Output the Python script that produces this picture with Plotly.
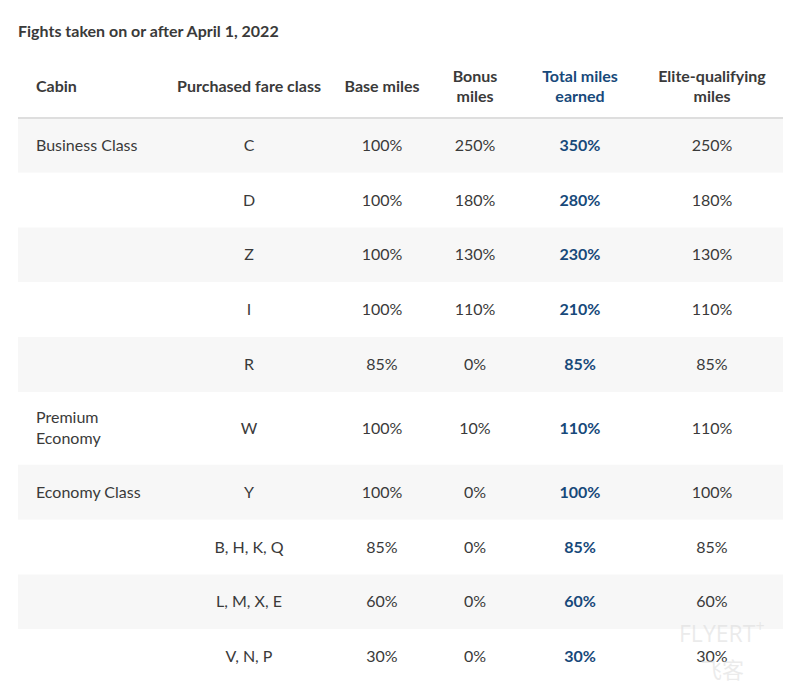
import plotly.graph_objects as go

# ---------------- data ----------------
title_text = "Fights taken on or after April 1, 2022"
headers = ["Cabin", "Purchased fare class", "Base miles", "Bonus<br>miles",
           "Total miles<br>earned", "Elite-qualifying<br>miles"]
cabins = ["Business Class", "", "", "", "", "Premium<br>Economy",
          "Economy Class", "", "", ""]
fare_classes = ["C", "D", "Z", "I", "R", "W", "Y", "B, H, K, Q", "L, M, X, E", "V, N, P"]
base_miles = [100, 100, 100, 100, 85, 100, 100, 85, 60, 30]
bonus_miles = [250, 180, 130, 110, 0, 10, 0, 0, 0, 0]
total_miles = [350, 280, 230, 210, 85, 110, 100, 85, 60, 30]
elite_miles = [250, 180, 130, 110, 85, 110, 100, 85, 60, 30]

# ---------------- layout constants ----------------
PAGE_OFF = 8                       # browser default body margin
W, H = 800 - PAGE_OFF, 696 - PAGE_OFF
ML, MR, MT, MB = 18 - PAGE_OFF, 17, 55 - PAGE_OFF, 12
TABLE_W = W - ML - MR
HEADER_H = 63
ROW_H = 54.8
LINE_EXTRA = 18.2
TEXT_DY = 1.5
FONT = "Lato, 'Open Sans', sans-serif"
FS = 16
TXT = "#3a3a3a"
BLUE = "#17497a"
STRIPE = "#f7f7f7"

col_x = [18, 231, 364, 457, 562, 694]  # text anchor per column (px within table)

# row geometry from line counts
heights = []
for c in cabins:
    lines = c.count("<br>") + 1
    heights.append(ROW_H + (lines - 1) * LINE_EXTRA)
centers = []
y = HEADER_H
for h in heights:
    centers.append(y + h / 2)
    y += h
total_h = y
text_y = [c + TEXT_DY for c in centers]

fig = go.Figure()

# stripes
fig.add_trace(go.Bar(
    orientation="h", x=[TABLE_W] * len(heights), y=centers, width=heights, base=0,
    marker=dict(color=[STRIPE if i % 2 == 0 else "#ffffff" for i in range(len(heights))],
                line=dict(width=0)),
    hoverinfo="skip", showlegend=False,
))

def pct(vals):
    return [f"{v}%" for v in vals]

columns = [cabins, fare_classes, pct(base_miles), pct(bonus_miles), pct(total_miles), pct(elite_miles)]
for j, col in enumerate(columns):
    is_total = (j == 4)
    fig.add_trace(go.Scatter(
        x=[col_x[j]] * len(col), y=text_y, mode="text", text=col,
        textposition="middle right" if j == 0 else "middle center",
        textfont=dict(family=FONT, size=FS, color=BLUE if is_total else TXT,
                      weight="bold" if is_total else "normal"),
        hoverinfo="skip", showlegend=False,
    ))

# header
fig.add_trace(go.Scatter(
    x=col_x, y=[HEADER_H / 2 + TEXT_DY] * len(headers), mode="text", text=headers,
    textposition=["middle right"] + ["middle center"] * (len(headers) - 1),
    textfont=dict(family=FONT, size=FS, weight="bold",
                  color=[TXT, TXT, TXT, TXT, BLUE, TXT]),
    hoverinfo="skip", showlegend=False,
))

fig.add_shape(type="line", xref="x", yref="y", x0=0, x1=TABLE_W, y0=HEADER_H, y1=HEADER_H,
              line=dict(color="#dedede", width=2), layer="above")

PH = H - MT - MB
# title
fig.add_annotation(text=f"<b>{title_text}</b>", xref="paper", yref="paper",
                   x=0, y=1 + 25 / PH, xanchor="left", yanchor="middle", xshift=-2,
                   showarrow=False, font=dict(family=FONT, size=FS, color=TXT))

# watermark
fig.add_annotation(text="FLYERT<sup>+</sup>", xref="paper", yref="paper",
                   x=(722 - 18) / TABLE_W, y=1 - (632 - 55) / PH,
                   xanchor="center", yanchor="middle", showarrow=False,
                   font=dict(family="'Open Sans', sans-serif", size=23, color="rgba(215,215,215,0.5)"))
fig.add_annotation(text="飞客", xref="paper", yref="paper",
                   x=(722 - 18) / TABLE_W, y=1 - (668 - 55) / PH,
                   xanchor="center", yanchor="middle", showarrow=False,
                   font=dict(family="'Noto Sans CJK SC', sans-serif", size=22, color="rgba(215,215,215,0.5)"))

fig.update_layout(
    width=W, height=H,
    margin=dict(l=ML, r=MR, t=MT, b=MB),
    paper_bgcolor="white", plot_bgcolor="white",
    xaxis=dict(range=[0, TABLE_W], visible=False, fixedrange=True),
    yaxis=dict(range=[total_h, 0], visible=False, fixedrange=True),
    showlegend=False,
)

fig.write_html("out.html")
